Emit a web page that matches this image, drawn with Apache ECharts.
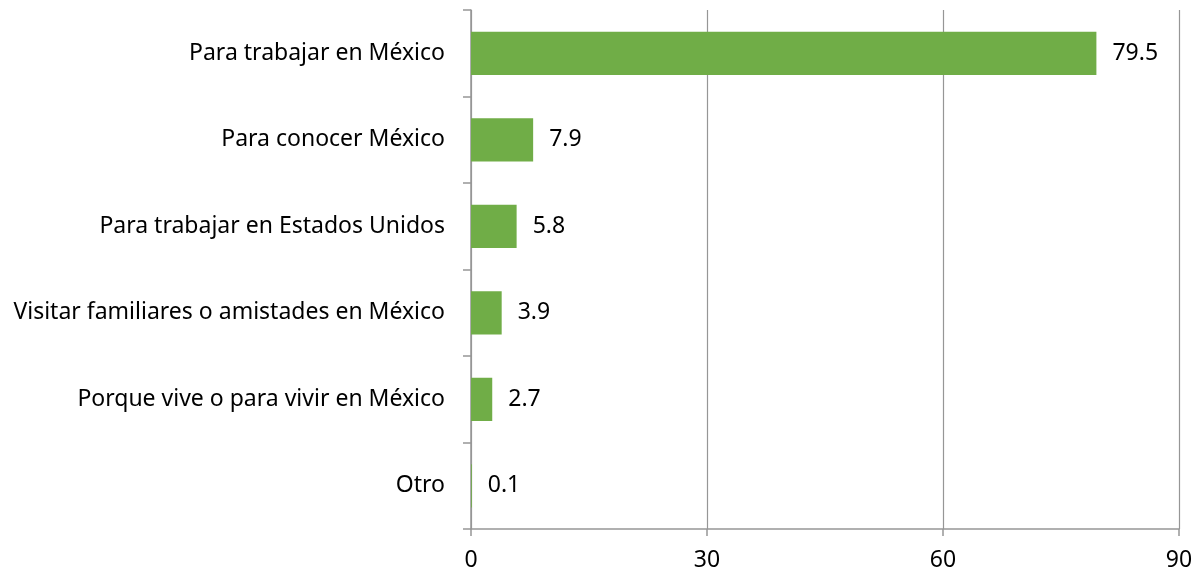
<!DOCTYPE html>
<html>
<head>
    <meta charset="utf-8">
    <title>ECharts</title>
    <script src="https://cdn.jsdelivr.net/npm/echarts@6/dist/echarts.min.js"></script>
    <style>body{margin:0;background:#fff;}</style>
</head>
<body>
    <div id="main" style="width: 1204px;height:575px;"></div>
    <script type="text/javascript">
        // categorías y porcentajes
        var categories = [
            'Para trabajar en México',
            'Para conocer México',
            'Para trabajar en Estados Unidos',
            'Visitar familiares o amistades en México',
            'Porque vive o para vivir en México',
            'Otro'
        ];
        var values = [79.5, 7.9, 5.8, 3.9, 2.7, 0.1];
        var xTicks = [0, 30, 60, 90];

        var myChart = echarts.init(document.getElementById('main'));
        var fontFamily = 'Noto Sans';

        option = {
            animation: false,
            grid: { left: 471, right: 25, top: 10, bottom: 46, containLabel: false },
            xAxis: {
                type: 'value',
                min: xTicks[0],
                max: xTicks[xTicks.length - 1],
                interval: 30,
                axisLine: { show: true, lineStyle: { color: '#969696', width: 1.5 } },
                axisTick: { show: true, length: 7, lineStyle: { color: '#969696', width: 1.5 } },
                axisLabel: { color: '#000', fontSize: 23, fontFamily: fontFamily, margin: 20 },
                splitLine: { show: true, lineStyle: { color: '#969696', width: 1.2 } }
            },
            yAxis: {
                type: 'category',
                inverse: true,
                data: categories,
                axisLine: { show: true, lineStyle: { color: '#969696', width: 1.5 } },
                axisTick: { show: true, length: 8, lineStyle: { color: '#969696', width: 1.5 } },
                axisLabel: { color: '#000', fontSize: 23, fontFamily: fontFamily, margin: 26 }
            },
            series: [{
                type: 'bar',
                data: values,
                barWidth: '50%',
                itemStyle: { color: '#70AD47' },
                label: {
                    show: true,
                    position: 'right',
                    distance: 16,
                    color: '#000',
                    fontSize: 23,
                    fontFamily: fontFamily,
                    formatter: function (p) { return p.value.toFixed(1); }
                }
            }]
        };
        myChart.setOption(option);
    </script>
</body>
</html>
